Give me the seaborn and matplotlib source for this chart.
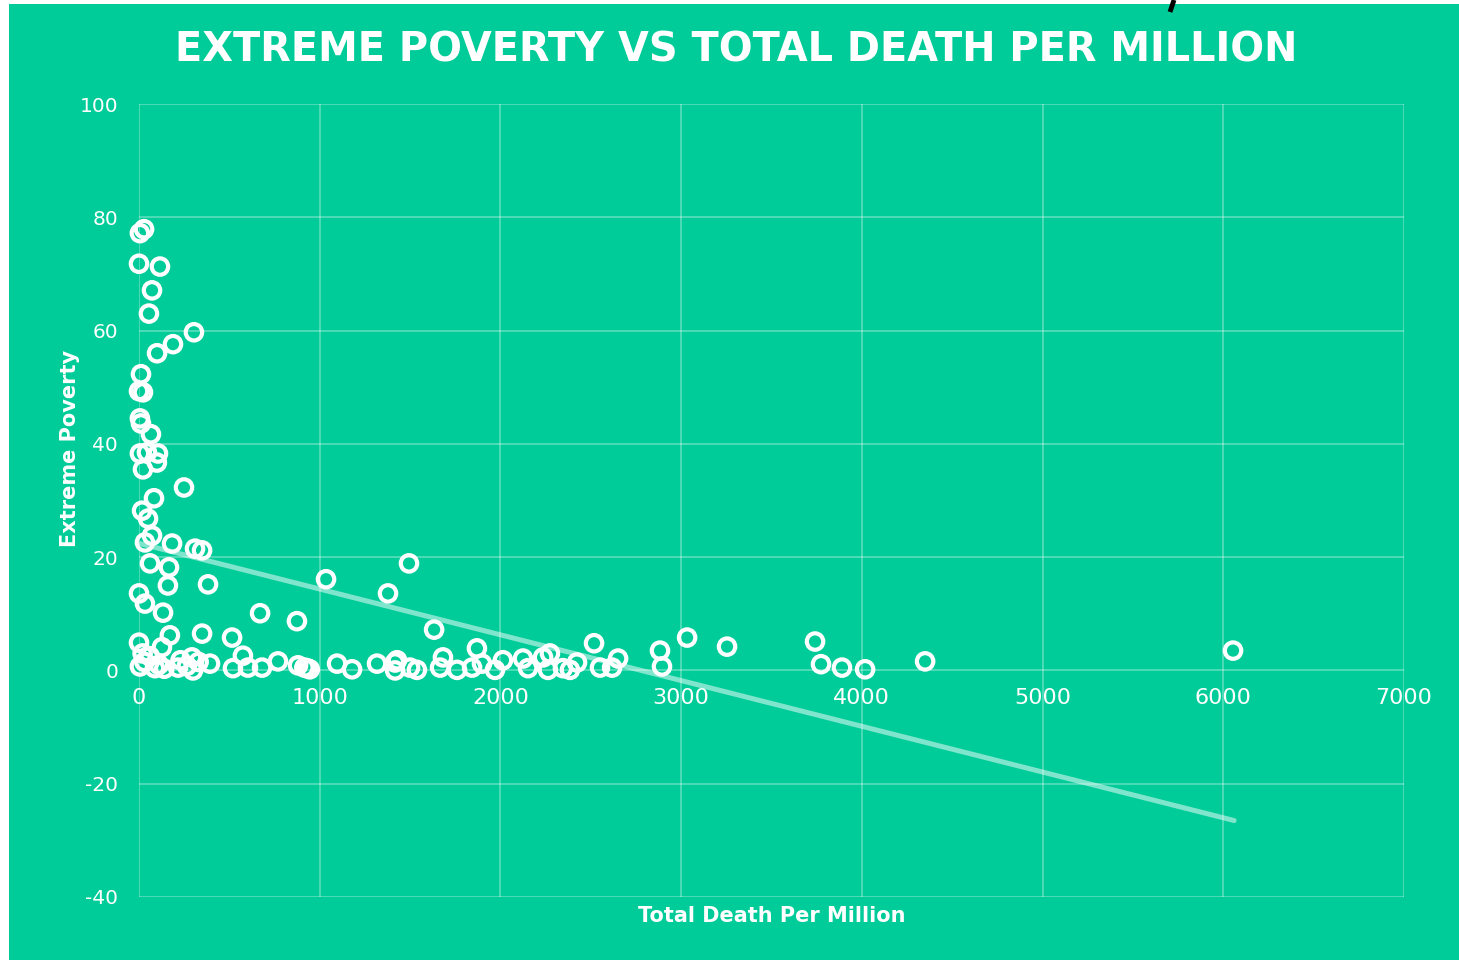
import matplotlib
matplotlib.use("Agg")
import matplotlib.pyplot as plt
from matplotlib.patches import Rectangle
from matplotlib.lines import Line2D
import seaborn as sns
import pandas as pd

# Total deaths per million vs share of population in extreme poverty (%)
total_deaths_per_million = [
    5, 28, 0, 116, 72, 55, 304, 188, 100, 11, 0, 22, 5, 11, 66, 5, 44, 105, 99, 22,
    249, 83, 17, 50, 72, 33, 183, 310, 349, 61, 166,
    160, 382, 0, 33, 133, 670, 874, 1035, 1494, 1378, 1633,
    0, 5, 88, 127, 171, 216, 293, 299, 349, 393, 515, 520, 575, 603, 681, 769,
    930, 880, 915, 945, 1096, 1179, 1317, 1417, 1428, 1417, 1500, 1538, 1682, 1666,
    1760, 1870, 1898, 1843, 1970, 2014, 2125, 2153, 2236, 2274, 2263, 2346, 2385,
    2424, 2518, 2551, 2618, 2651, 2883, 2894, 3033, 3254, 3741, 3774, 3890, 4018,
    4350, 6054,
    30, 110, 140, 265, 330, 20, 60, 230,
]
extreme_poverty = [
    77.2, 77.9, 71.8, 71.3, 67.1, 63.0, 59.7, 57.6, 56.0, 52.3, 49.3, 49.1, 44.5, 43.6,
    41.7, 38.3, 38.5, 38.3, 36.7, 35.5, 32.3, 30.4, 28.2, 26.8, 23.8, 22.6, 22.4, 21.5,
    21.2, 18.9, 18.2,
    15.0, 15.2, 13.6, 11.8, 10.2, 10.1, 8.7, 16.1, 18.9, 13.6, 7.2,
    4.9, 0.7, 0.4, 4.1, 6.2, 0.5, 2.3, 0.0, 6.5, 1.2, 5.8, 0.4, 2.6, 0.5, 0.5, 1.6,
    0.4, 0.9, 0.5, 0.2, 1.2, 0.2, 1.2, 1.4, 1.8, 0.0, 0.5, 0.1, 2.3, 0.5,
    0.1, 3.9, 1.2, 0.5, 0.1, 1.8, 2.1, 0.4, 2.3, 3.0, 0.1, 0.4, 0.1,
    1.4, 4.8, 0.5, 0.5, 2.1, 3.5, 0.7, 5.8, 4.2, 5.1, 1.1, 0.5, 0.2,
    1.6, 3.5,
    1.5, 1.0, 0.3, 0.8, 1.5, 3.0, 2.5, 1.8,
]

# Linear trend line end points
trend_x = [5, 6060]
trend_y = [22.4, -26.5]

x_ticks = [0, 1000, 2000, 3000, 4000, 5000, 6000, 7000]
y_ticks = [-40, -20, 0, 20, 40, 60, 80, 100]

title = "EXTREME POVERTY VS TOTAL DEATH PER MILLION"
x_label = "Total Death Per Million"
y_label = "Extreme Poverty"

GREEN = "#00CC99"

sns.set_theme(style="white")
plt.rcParams["font.family"] = ["DejaVu Sans"]

fig = plt.figure(figsize=(14.59, 9.60), dpi=100, facecolor="white")
fig.add_artist(Rectangle((9 / 1459, 0), 1 - 9 / 1459, 956 / 960,
                         transform=fig.transFigure, facecolor=GREEN,
                         edgecolor="none", zorder=0))
fig.add_artist(Line2D([1174 / 1459, 1170 / 1459], [1.0, 1 - 12 / 960],
                      transform=fig.transFigure, color="black", lw=3.5,
                      solid_capstyle="butt"))

ax = fig.add_axes([139 / 1459, 63 / 960, 1265 / 1459, 793 / 960])
ax.set_facecolor("none")

df = pd.DataFrame({"deaths": total_deaths_per_million, "poverty": extreme_poverty})
trend = pd.DataFrame({"deaths": trend_x, "poverty": trend_y})

sns.lineplot(data=trend, x="deaths", y="poverty", ax=ax, color="white",
             alpha=0.5, lw=3.6, solid_capstyle="round", zorder=2)
sns.scatterplot(data=df, x="deaths", y="poverty", ax=ax, s=140,
                facecolor="none", edgecolor="white", linewidth=3.0, zorder=3,
                clip_on=False)

ax.set_xlim(0, 7000)
ax.set_ylim(-40, 100)
ax.set_xticks(x_ticks)
ax.set_yticks(y_ticks)
ax.set_xticklabels([str(v) for v in x_ticks])
ax.set_yticklabels([str(v) for v in y_ticks])

ax.grid(True, color="white", alpha=0.3, lw=1.4)
ax.set_axisbelow(True)
for s in ax.spines.values():
    s.set_visible(False)
ax.spines["bottom"].set_position(("data", 0))

ax.tick_params(axis="x", length=0, pad=13, labelsize=16, labelcolor="white")
ax.tick_params(axis="y", length=0, pad=15, labelsize=14.5, labelcolor="white")

ax.set_xlabel("")
ax.set_ylabel("")
fig.text(772 / 1459, 1 - 916 / 960, x_label, ha="center", va="center",
         fontsize=15, fontweight="bold", color="white")
fig.text(70 / 1459, 1 - 448 / 960, y_label, ha="center", va="center",
         rotation=90, fontsize=15, fontweight="bold", color="white")
fig.text(736 / 1459, 1 - 50 / 960, title, ha="center", va="center",
         fontsize=28.7, fontweight="bold", color="white")

fig.savefig("out.png", dpi=100, facecolor="white")
